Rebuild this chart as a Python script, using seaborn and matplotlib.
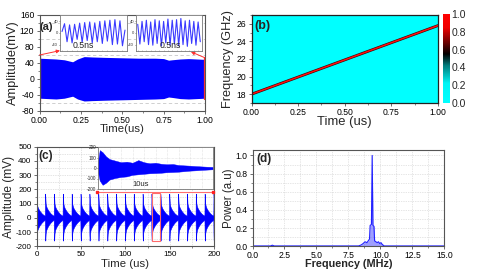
import numpy as np
import pandas as pd
import matplotlib
matplotlib.use('Agg')
import matplotlib.pyplot as plt
import seaborn as sns
import matplotlib.colors as mcolors
import matplotlib.cm as cm
from matplotlib.ticker import MultipleLocator, FormatStrFormatter, NullFormatter
from matplotlib.patches import Rectangle

sns.set_style('ticks')
plt.rcParams['font.family'] = ['Liberation Sans', 'DejaVu Sans']
plt.rcParams['axes.unicode_minus'] = False

BLUE = '#0000ff'
RED = '#ff3030'
GRAY = '#555555'

# ---------------- data ----------------
# (a) envelope of the fast signal over 1 us
a_time = [0.0, 0.05, 0.10, 0.15, 0.18, 0.20, 0.23, 0.27, 0.32, 0.40, 0.50, 0.60, 0.70, 0.75, 0.78, 0.80, 0.85, 0.90, 0.95, 1.00]
a_upper = [52, 51, 50, 48, 45, 43, 50, 56, 55, 54, 53, 52, 52, 51, 47, 48, 50, 51, 50, 49]
a_lower = [-48, -49, -50, -48, -45, -43, -50, -55, -54, -53, -52, -51, -50, -49, -45, -46, -49, -50, -49, -48]
# (a) zoomed 0.5 ns windows (successive extrema, mV)
a_inset1 = [5, 32, -30, 28, -34, 30, -22, 34, -32, 36, -26, 38, -34, 35, -30, 40, -36, 42, -28, 44, -40, 46, -38, 42, -44, 10]
a_inset2 = [30, -38, 40, -30, 44, -40, 38, -42, 46, -36, 42, -44, 40, -34, 48, -42, 44, -38, 46, -44, 50, -40, 42, -46, 44, -36, 40, -42, 38, -30]

# (b) chirp: frequency vs time
b_time = [0.0, 1.0]
b_freq = [18.0, 25.8]
cb_ticks = [0.0, 0.2, 0.4, 0.6, 0.8, 1.0]

# (c) pulse train: pulse start times (us) and per-pulse envelope
c_starts = [-0.7, 9.3, 19.3, 29.3, 39.3, 49.3, 59.3, 69.3, 79.3, 89.3, 99.3,
            109.3, 119.3, 129.3, 139.3, 149.3, 159.3, 169.3, 179.3, 189.3, 199.3]
cp_off = [0.0, 0.15, 0.4, 0.8, 1.5, 2.5, 3.5, 4.5, 5.5, 6.5, 7.5, 8.5, 9.9]
cp_up = [60, 170, 150, 100, 80, 65, 55, 45, 38, 30, 25, 20, 15]
cp_lo = [-40, -120, -160, -110, -85, -70, -58, -48, -40, -32, -26, -20, -15]
# (c) inset: single 10 us pulse envelope
ci_t = [0, 0.15, 0.4, 0.7, 1.0, 1.5, 2.0, 2.5, 3.0, 3.5, 4.0, 4.5, 5.0, 5.5, 6.0, 6.5, 7.0, 7.5, 8.0, 8.5, 9.0, 9.5, 10.0]
ci_up = [60, 170, 150, 110, 85, 70, 55, 60, 50, 75, 55, 45, 50, 40, 35, 38, 28, 25, 22, 18, 15, 12, 10]
ci_lo = [-40, -120, -160, -140, -110, -95, -85, -80, -65, -60, -55, -50, -48, -45, -40, -38, -35, -30, -25, -22, -18, -15, -12]

# (d) spectrum
d_freq = [0.0, 1.40, 1.55, 1.70, 8.30, 8.50, 8.65, 8.80, 8.95, 9.05, 9.15, 9.20, 9.30, 9.36, 9.42, 9.50, 9.55, 9.65, 9.75, 9.85, 9.95, 10.05, 10.15, 10.30, 15.0]
d_power = [0.004, 0.004, 0.012, 0.004, 0.004, 0.015, 0.03, 0.05, 0.04, 0.06, 0.08, 0.23, 0.24, 1.0, 0.23, 0.22, 0.06, 0.05, 0.04, 0.05, 0.03, 0.04, 0.02, 0.004, 0.004]

# ---------------- figure ----------------
fig = plt.figure(figsize=(5.0, 2.72), dpi=100)
W, H = 500.0, 272.0

def rect(l, t, r, b):
    return [l / W, 1 - b / H, (r - l) / W, (b - t) / H]

TICK = 6.2

def frame(ax, color=GRAY, lw=0.8, tick=TICK):
    for s in ax.spines.values():
        s.set_visible(True)
        s.set_color(color)
        s.set_linewidth(lw)
    ax.tick_params(which='both', direction='out', colors='black', labelsize=tick, pad=1.2)
    ax.tick_params(which='major', length=2.5, width=0.6, color=GRAY)
    ax.tick_params(which='minor', length=1.3, width=0.5, color=GRAY)

# ----- (a) -----
axa = fig.add_axes(rect(39.5, 15, 205, 111))
axa.fill_between(a_time, a_lower, a_upper, color=BLUE, lw=0)
axa.set_xlim(0, 1)
axa.set_ylim(-80, 160)
axa.xaxis.set_major_locator(MultipleLocator(0.25))
axa.xaxis.set_minor_locator(MultipleLocator(0.125))
axa.xaxis.set_major_formatter(FormatStrFormatter('%.2f'))
axa.yaxis.set_major_locator(MultipleLocator(40))
axa.yaxis.set_minor_locator(MultipleLocator(20))
axa.grid(which='minor', axis='y', color='#c8c8c8', ls=(0, (4, 3)), lw=0.6)
frame(axa)
axa.tick_params(axis='x', pad=0.8)
axa.set_xlabel('Time(us)', fontsize=8.2)
axa.set_ylabel('Amplitude(mV)', fontsize=9.2)
axa.xaxis.set_label_coords(0.5, -0.14)
axa.yaxis.set_label_coords(-0.125, 0.5)
axa.text(0.003, 0.93, '(a)', transform=axa.transAxes, fontsize=8, fontweight='bold', va='top', ha='left')
axa.plot([0.004, 0.004], [-55, 60], color=RED, lw=0.9)
axa.plot([0.996, 0.996], [-50, 55], color=RED, lw=0.9)
axa.annotate('', xy=(0.124, 71), xytext=(0.0, 60),
             arrowprops=dict(arrowstyle='-|>', color=RED, lw=0.7, mutation_scale=5, shrinkA=0, shrinkB=0))
axa.annotate('', xy=(0.915, 68), xytext=(1.0, 53),
             arrowprops=dict(arrowstyle='-|>', color=RED, lw=0.7, mutation_scale=5, shrinkA=0, shrinkB=0))

def wave_inset(r, vals, label, lx):
    ax = fig.add_axes(rect(*r))
    ax.set_facecolor('white')
    sns.lineplot(x=np.arange(len(vals)), y=vals, ax=ax, color='#3a3aff', lw=0.8)
    ax.set_xlim(-0.8, len(vals) - 0.2)
    ax.set_ylim(-62, 62)
    ax.set_yticks([-40, 0, 40])
    ax.set_xticks(np.arange(0, len(vals), 2))
    ax.xaxis.set_major_formatter(NullFormatter())
    for s in ax.spines.values():
        s.set_visible(True)
        s.set_color('#777777')
        s.set_linewidth(0.6)
    ax.tick_params(axis='y', labelsize=3.0, length=1, width=0.4, pad=0.4, colors='#333333')
    ax.tick_params(axis='x', length=1, width=0.4, direction='in', colors='#999999')
    ax.set_xlabel('')
    ax.set_ylabel('')
    ax.text(lx, 0.04, label, transform=ax.transAxes, fontsize=6.3, ha='center', va='bottom')
    return ax

wave_inset((60, 15, 127, 51), a_inset1, '0.5ns', 0.35)
wave_inset((136, 15, 202, 51), a_inset2, '0.5ns', 0.52)

# ----- (b) -----
cmap = mcolors.LinearSegmentedColormap.from_list(
    'cyan_black_red',
    [(0.0, '#00ffff'), (0.22, '#00f4f4'), (0.42, '#007c7c'), (0.55, '#000000'),
     (0.7, '#7a0000'), (0.85, '#f00000'), (1.0, '#ff0000')])
axb = fig.add_axes(rect(251.5, 15, 438, 103))
axb.set_facecolor(cmap(0.0))
sns.lineplot(x=b_time, y=b_freq, ax=axb, color='#400000', lw=2.0)
sns.lineplot(x=b_time, y=b_freq, ax=axb, color='#ff1010', lw=1.1)
axb.set_xlim(0, 1)
axb.set_ylim(17, 27)
axb.xaxis.set_major_locator(MultipleLocator(0.25))
axb.xaxis.set_minor_locator(MultipleLocator(0.125))
axb.xaxis.set_major_formatter(FormatStrFormatter('%.2f'))
axb.yaxis.set_major_locator(MultipleLocator(2))
axb.yaxis.set_minor_locator(MultipleLocator(1))
frame(axb, color='#222222', lw=0.9)
axb.set_xlabel('Time (us)', fontsize=9.4)
axb.set_ylabel('Frequency (GHz)', fontsize=9.2)
axb.xaxis.set_label_coords(0.5, -0.15)
axb.yaxis.set_label_coords(-0.094, 0.5)
axb.text(0.015, 0.94, '(b)', transform=axb.transAxes, fontsize=9, fontweight='bold', va='top', ha='left')

cax = fig.add_axes(rect(443, 14, 449.5, 103))
sm = cm.ScalarMappable(norm=mcolors.Normalize(0, 1), cmap=cmap)
cb = fig.colorbar(sm, cax=cax, ticks=cb_ticks)
cb.ax.yaxis.set_major_formatter(FormatStrFormatter('%.1f'))
cb.ax.tick_params(length=0, labelsize=7.5, pad=1.5)
cb.outline.set_visible(False)

# ----- (c) -----
axc = fig.add_axes(rect(36.7, 146.7, 214, 246.3))
c_t, c_u, c_l = [], [], []
for s0 in c_starts:
    for o, u, l in zip(cp_off, cp_up, cp_lo):
        c_t.append(s0 + o)
        c_u.append(u)
        c_l.append(l)
axc.fill_between(c_t, c_l, c_u, color=BLUE, lw=0.4, edgecolor=BLUE)
axc.set_xlim(0, 200)
axc.set_ylim(-200, 500)
axc.xaxis.set_major_locator(MultipleLocator(50))
axc.xaxis.set_minor_locator(MultipleLocator(25))
axc.yaxis.set_major_locator(MultipleLocator(100))
axc.yaxis.set_minor_locator(MultipleLocator(50))
axc.grid(which='both', color='#c8c8c8', ls=(0, (1, 1.5)), lw=0.5)
axc.set_axisbelow(True)
frame(axc, tick=5.8)
axc.set_xlabel('Time (us)', fontsize=8.2)
axc.set_ylabel('Amplitude (mV)', fontsize=8.6)
axc.xaxis.set_label_coords(0.5, -0.13)
axc.yaxis.set_label_coords(-0.12, 0.5)
axc.text(0.01, 0.97, '(c)', transform=axc.transAxes, fontsize=8.5, fontweight='bold', va='top', ha='left')
axc.add_patch(Rectangle((130, -160), 9, 335, fill=False, edgecolor='#ff6a6a', lw=0.8, zorder=5))
axc.plot([68, 199], [182, 182], color='#ff7070', lw=0.8, zorder=5, clip_on=False)
axc.plot([68, 199], [182, 182], ls='none', marker='s', ms=1.8, color='#ff2020', zorder=6, clip_on=False)

axci = fig.add_axes(rect(98, 147, 213, 189))
axci.set_facecolor('white')
axci.fill_between(ci_t, ci_lo, ci_up, color=BLUE, lw=0.3, edgecolor=BLUE)
sns.lineplot(x=ci_t, y=[0] * len(ci_t), ax=axci, color=BLUE, lw=0.6)
axci.set_xlim(0, 10)
axci.set_ylim(-200, 200)
axci.set_yticks([-200, -100, 0, 100, 200])
axci.xaxis.set_major_locator(MultipleLocator(1))
axci.xaxis.set_major_formatter(NullFormatter())
axci.grid(which='major', color='#cccccc', ls=(0, (1, 1.5)), lw=0.4)
for s in axci.spines.values():
    s.set_visible(True)
    s.set_color('#777777')
    s.set_linewidth(0.6)
axci.tick_params(axis='y', labelsize=3.4, length=1, width=0.4, pad=0.4)
axci.tick_params(axis='x', length=0)
axci.set_xlabel('')
axci.set_ylabel('')
axci.text(0.37, 0.03, '10us', transform=axci.transAxes, fontsize=5.5, ha='center', va='bottom')

# ----- (d) -----
axd = fig.add_axes(rect(252.5, 150, 444.3, 246.3))
axd.fill_between(d_freq, 0, d_power, color='#5050ff', alpha=0.55, lw=0)
sns.lineplot(x=d_freq, y=d_power, ax=axd, color='#2020ff', lw=0.8)
axd.set_xlim(0, 15)
axd.set_ylim(0, 1.06)
axd.xaxis.set_major_locator(MultipleLocator(2.5))
axd.xaxis.set_minor_locator(MultipleLocator(1.25))
axd.xaxis.set_major_formatter(FormatStrFormatter('%.1f'))
axd.yaxis.set_major_locator(MultipleLocator(0.2))
axd.yaxis.set_minor_locator(MultipleLocator(0.1))
axd.yaxis.set_major_formatter(FormatStrFormatter('%.1f'))
axd.grid(which='both', color='#cccccc', ls=(0, (1, 1.5)), lw=0.5)
axd.set_axisbelow(True)
frame(axd)
axd.set_xlabel('Frequency (MHz)', fontsize=7.8, fontweight='bold')
axd.set_ylabel('Power (a.u)', fontsize=8.3)
axd.xaxis.set_label_coords(0.5, -0.135)
axd.yaxis.set_label_coords(-0.09, 0.5)
axd.text(0.02, 0.97, '(d)', transform=axd.transAxes, fontsize=8.5, fontweight='bold', va='top', ha='left')

fig.savefig('out.png', dpi=100)
